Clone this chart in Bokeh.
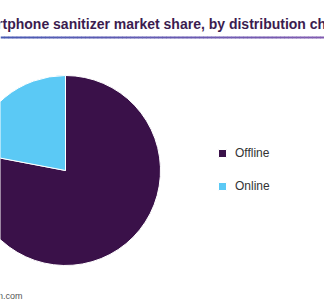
import numpy as np
from bokeh.plotting import figure
from bokeh.models import Legend, LegendItem, Range1d
from bokeh.core.properties import value
from bokeh.embed import file_html
from bokeh.resources import INLINE

# Data
categories = ["Offline", "Online"]
shares = [78, 22]
colors = ["#3a1149", "#5bc9f5"]
title_text = "Smartphone sanitizer market share, by distribution channel, 2020 (%)"
source_text = "Source: www.grandviewresearch.com"

W, H = 324, 300
p = figure(width=W, height=H, output_backend="svg", toolbar_location=None,
           min_border=0, x_range=Range1d(0, W), y_range=Range1d(0, H))
p.axis.visible = False
p.grid.visible = False
p.outline_line_color = None
p.background_fill_color = "white"
p.border_fill_color = "white"

# Title (cropped on the left as in the reference)
p.text(x=[-33], y=[H - 23], text=[title_text], text_font=value("Liberation Sans"),
       text_font_style="bold", text_font_size="14px", text_color="#3b1c4f",
       text_baseline="alphabetic", text_align="left")

# gradient rule under title
n = 81
xs = np.linspace(0, W, n)
c0 = np.array([0x4a, 0x5c, 0xb4]); c1 = np.array([0x80, 0x5a, 0xb0])
for i in range(n - 1):
    t = i / (n - 2)
    c = (c0 * (1 - t) + c1 * t).astype(int)
    p.segment(x0=[xs[i]], y0=[H - 37], x1=[xs[i + 1] + 0.5], y1=[H - 37],
              line_color="#%02x%02x%02x" % tuple(c), line_width=2)

# Pie
cx, cy, r = 65, H - 170, 95
total = sum(shares)
online_frac = shares[1] / total
start_online = np.pi / 2
end_online = start_online + online_frac * 2 * np.pi
end_offline = start_online + 2 * np.pi
w_off = p.wedge(x=[cx], y=[cy], radius=r, start_angle=[end_online], end_angle=[end_offline],
                fill_color=colors[0], line_color="white", line_width=1)
w_on = p.wedge(x=[cx], y=[cy], radius=r, start_angle=[start_online], end_angle=[end_online],
               fill_color=colors[1], line_color="white", line_width=1)

legend = Legend(items=[LegendItem(label=categories[0], renderers=[w_off]),
                       LegendItem(label=categories[1], renderers=[w_on])],
                location=(217, H - 196), orientation="vertical",
                glyph_width=10, glyph_height=10, label_standoff=8, spacing=13,
                label_height=20, padding=0, margin=0, border_line_color=None,
                background_fill_alpha=0, label_text_font="Liberation Sans",
                label_text_font_size="12px", label_text_color="#333333")
p.add_layout(legend, "center")

# Source
p.text(x=[22], y=[5], text=[source_text], text_font=value("Liberation Sans"),
       text_font_size="9px", text_color="#555555", text_align="right",
       text_baseline="alphabetic")

open("out.html", "w").write(file_html(p, INLINE))
